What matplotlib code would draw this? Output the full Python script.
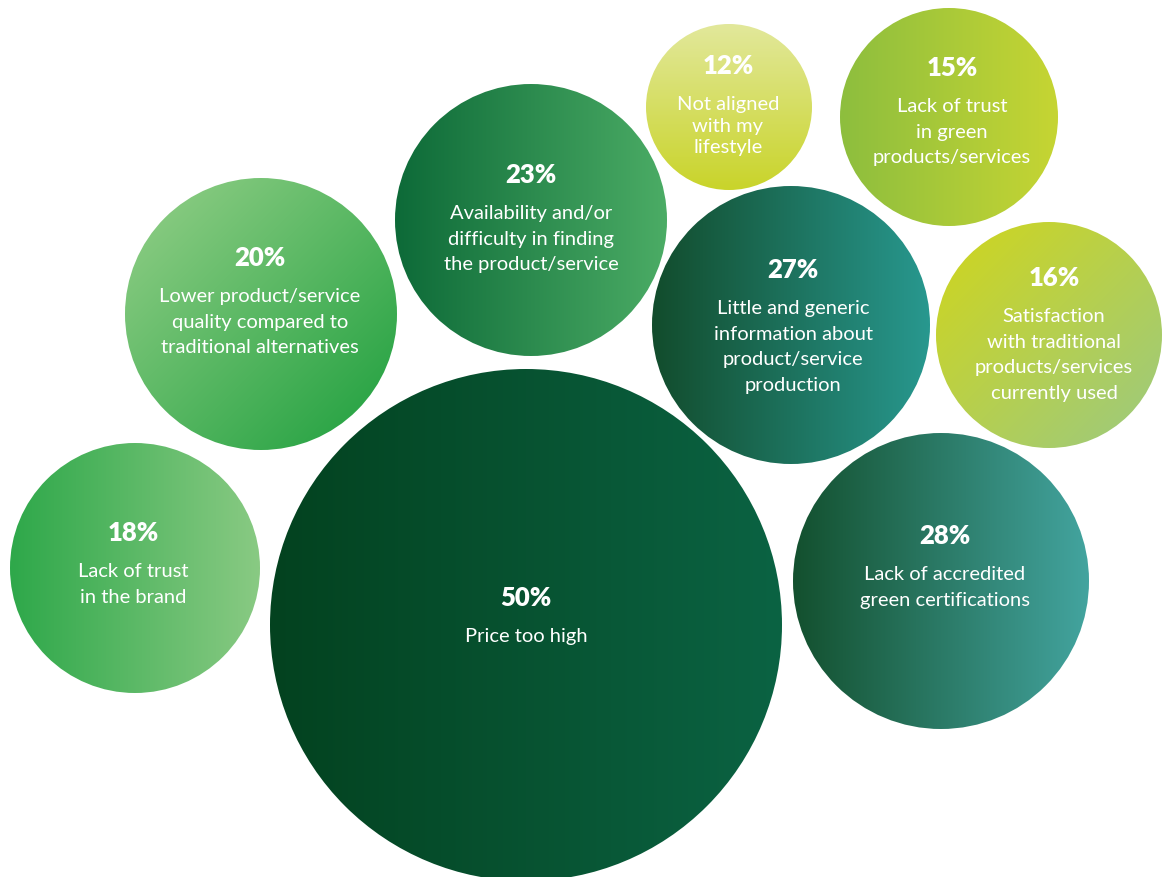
import matplotlib
matplotlib.use("Agg")
import matplotlib.pyplot as plt
from matplotlib.patches import Circle
from matplotlib.colors import to_rgb
import numpy as np

# barriers to buying green products/services (share of respondents, %)
values = [50, 28, 27, 23, 20, 18, 16, 15, 12]
labels = [
    "Price too high",
    "Lack of accredited\ngreen certifications",
    "Little and generic\ninformation about\nproduct/service\nproduction",
    "Availability and/or\ndifficulty in finding\nthe product/service",
    "Lower product/service\nquality compared to\ntraditional alternatives",
    "Lack of trust\nin the brand",
    "Satisfaction\nwith traditional\nproducts/services\ncurrently used",
    "Lack of trust\nin green\nproducts/services",
    "Not aligned\nwith my\nlifestyle",
]

# bubble layout in pixel space (x, y from top-left), radius
cx = [526, 941, 791, 531, 261, 135, 1049, 949, 729]
cy = [625, 581, 325, 220, 314, 568, 335, 117, 107]
rad = [256, 148, 139, 136, 136, 125, 113, 109, 83]

# gradient start/end colours and direction (dx, dy, y pointing down)
c_start = ["#03421f", "#13502e", "#124c2c", "#0d6a38", "#84c97e",
           "#2ea84a", "#c9d42a", "#8dbe3e", "#e2e89b"]
c_end = ["#0b6343", "#43a49f", "#28988f", "#4bac65", "#2ea648",
         "#89ca83", "#a3cb73", "#c6d533", "#c9d42a"]
g_dir = [(1, 0), (1, 0), (1, 0), (1, 0), (1, 1),
         (1, 0), (1, 1), (1, 0), (0, 1)]

# text anchor of each percentage, spacing of the description lines
pct_x = [526, 945, 793, 531, 260, 133, 1054, 952, 728]
pct_y = [598, 536, 270, 175, 258, 533, 278, 68, 66]
line_sp = [1.62, 1.62, 1.62, 1.62, 1.62, 1.62, 1.62, 1.62, 1.33]

W, H = 1164, 877
fig = plt.figure(figsize=(W / 100, H / 100), dpi=100)
ax = fig.add_axes([0, 0, 1, 1])
ax.set_xlim(0, W)
ax.set_ylim(H, 0)
ax.set_aspect("equal")
ax.axis("off")

font = ["Lato", "DejaVu Sans"]

for i in range(len(values)):
    x0, y0, r = cx[i], cy[i], rad[i]
    n = 300
    xs = np.linspace(-r, r, n)
    X, Y = np.meshgrid(xs, xs)
    dx, dy = g_dir[i]
    norm = np.hypot(dx, dy)
    t = (X * dx + Y * dy) / norm
    t = np.clip((t + r) / (2 * r), 0, 1)[..., None]
    a = np.array(to_rgb(c_start[i]))
    b = np.array(to_rgb(c_end[i]))
    img = a * (1 - t) + b * t

    circ = Circle((x0, y0), r, transform=ax.transData, facecolor="none",
                  edgecolor="none")
    ax.add_patch(circ)
    im = ax.imshow(img, extent=[x0 - r, x0 + r, y0 + r, y0 - r],
                   origin="upper", interpolation="bilinear", zorder=1)
    im.set_clip_path(circ)

    ax.text(pct_x[i], pct_y[i], f"{values[i]}%", ha="center", va="center",
            color="white", fontsize=18.5, fontweight="heavy", family=font,
            zorder=3)
    ax.text(pct_x[i], pct_y[i] + 30, labels[i], ha="center", va="top",
            color="white", fontsize=14.5, family=font,
            linespacing=line_sp[i], zorder=3)

ax.set_xlim(0, W)
ax.set_ylim(H, 0)
fig.savefig("out.png", dpi=100, facecolor="white")
